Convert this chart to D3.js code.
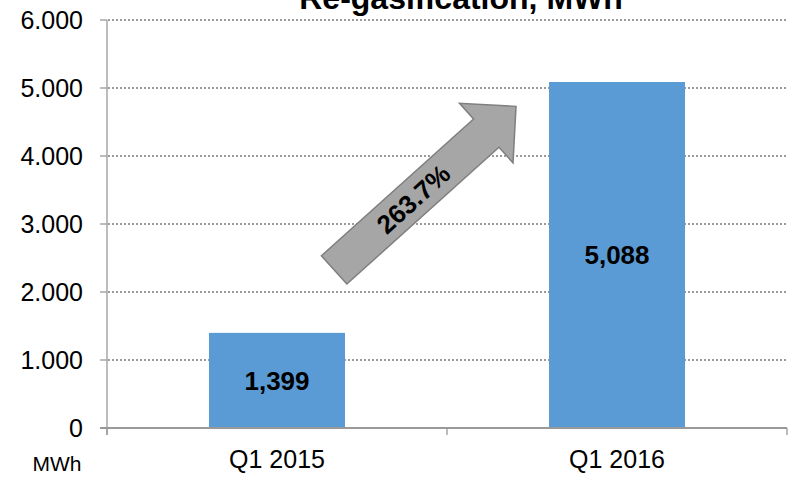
<!DOCTYPE html>
<html>
<head>
<meta charset="utf-8">
<script src="https://cdn.jsdelivr.net/npm/d3@7"></script>
<style>
  html, body { margin: 0; padding: 0; background: #fff; }
  svg { display: block; font-family: Arial, "Liberation Sans", sans-serif; }
</style>
</head>
<body>
<svg id="chart" width="788" height="477"></svg>
<script>
// ---- data ----
const categories = ["Q1 2015", "Q1 2016"];
const values = [1399, 5088];
const yTicks = [0, 1000, 2000, 3000, 4000, 5000, 6000];
const title = "Re-gasification, MWh";
const unitLabel = "MWh";
const growthLabel = "263.7%";
// arrow annotation in data space: [band position (0..2 across categories), value]
const arrowTail = [0.668, 2325];
const arrowTip = [1.203, 4730];

// ---- layout ----
const W = 788, H = 477;
const m = { left: 107, right: 1, top: 20, bottom: 49 };
const svg = d3.select("#chart");

const x = d3.scaleBand().domain(categories)
  .range([m.left, W - m.right]).paddingInner(0.6).paddingOuter(0.3);
const y = d3.scaleLinear().domain([0, 6000]).range([H - m.bottom, m.top]);
const step = x.step();
const bandStart = x(categories[0]) - (step - x.bandwidth()) / 2;
const bx = p => bandStart + p * step;

const locDot = d3.formatLocale({ decimal: ",", thousands: ".", grouping: [3], currency: ["", ""] });
const fmtTick = v => v === 0 ? "0" : locDot.format(",.0f")(v);
const fmtVal = d3.format(",");

// gridlines (dotted)
svg.append("g").selectAll("line").data(yTicks.filter(t => t > 0)).join("line")
  .attr("x1", m.left + 1).attr("x2", W)
  .attr("y1", d => y(d)).attr("y2", d => y(d))
  .attr("stroke", "#9a9a9a").attr("stroke-width", 2)
  .attr("stroke-dasharray", "2,2");

// bars
svg.append("g").selectAll("rect").data(values).join("rect")
  .attr("x", (d, i) => x(categories[i]))
  .attr("width", x.bandwidth())
  .attr("y", d => y(d))
  .attr("height", d => y(0) - y(d))
  .attr("fill", "#5B9BD5");

// bar labels
svg.append("g").selectAll("text").data(values).join("text")
  .attr("x", (d, i) => x(categories[i]) + x.bandwidth() / 2)
  .attr("y", d => (y(d) + y(0)) / 2)
  .attr("dy", "0.36em")
  .attr("text-anchor", "middle")
  .attr("font-weight", "bold").attr("font-size", 26)
  .attr("fill", "#000")
  .text(d => fmtVal(d));

// y axis
const axisColor = "#999";
svg.append("line").attr("x1", m.left).attr("x2", m.left)
  .attr("y1", y(6000)).attr("y2", y(0) + 7)
  .attr("stroke", axisColor).attr("stroke-width", 1.3);
svg.append("g").selectAll("line").data(yTicks).join("line")
  .attr("x1", m.left - 7).attr("x2", m.left)
  .attr("y1", d => y(d)).attr("y2", d => y(d))
  .attr("stroke", axisColor).attr("stroke-width", 1.3);
svg.append("g").selectAll("text").data(yTicks).join("text")
  .attr("x", 83).attr("y", d => y(d)).attr("dy", "0.36em")
  .attr("text-anchor", "end").attr("font-size", 25).attr("fill", "#000")
  .text(d => fmtTick(d));

// x axis
svg.append("line").attr("x1", m.left - 7).attr("x2", W - m.right)
  .attr("y1", y(0)).attr("y2", y(0))
  .attr("stroke", axisColor).attr("stroke-width", 2);
const xTickPos = [0, 1, 2].map(bx);
svg.append("g").selectAll("line").data(xTickPos).join("line")
  .attr("x1", d => d).attr("x2", d => d)
  .attr("y1", y(0)).attr("y2", y(0) + 7)
  .attr("stroke", axisColor).attr("stroke-width", 1.3);
svg.append("g").selectAll("text").data(categories).join("text")
  .attr("x", d => x(d) + x.bandwidth() / 2).attr("y", 468)
  .attr("text-anchor", "middle").attr("font-size", 25).attr("fill", "#000")
  .text(d => d);

// unit label
svg.append("text").attr("x", 57).attr("y", 471)
  .attr("text-anchor", "middle").attr("font-size", 21).attr("fill", "#000")
  .text(unitLabel);

// title (partially cut at top, as in the original)
svg.append("text").attr("x", 461).attr("y", 9)
  .attr("text-anchor", "middle").attr("font-weight", "bold").attr("font-size", 32)
  .attr("fill", "#000").text(title);

// arrow annotation
const T = [bx(arrowTail[0]), y(arrowTail[1])];
const P = [bx(arrowTip[0]), y(arrowTip[1])];
const dx = P[0] - T[0], dy = P[1] - T[1];
const L = Math.hypot(dx, dy);
const ang = Math.atan2(dy, dx) * 180 / Math.PI;
const sw = 38, hw = 80, hl = 40;
const shape = [
  [0, -sw / 2], [L - hl, -sw / 2], [L - hl, -hw / 2], [L, 0],
  [L - hl, hw / 2], [L - hl, sw / 2], [0, sw / 2]
];
const ag = svg.append("g").attr("transform", `translate(${T[0]},${T[1]}) rotate(${ang})`);
ag.append("path").attr("d", d3.line()(shape) + "Z")
  .attr("fill", "#A6A6A6").attr("stroke", "#7F7F7F").attr("stroke-width", 1.5);
ag.append("text").attr("x", (L - hl) * 0.5 + 4).attr("y", 0).attr("dy", "0.36em")
  .attr("text-anchor", "middle").attr("font-weight", "bold").attr("font-size", 26)
  .attr("fill", "#000").text(growthLabel);
</script>
</body>
</html>
